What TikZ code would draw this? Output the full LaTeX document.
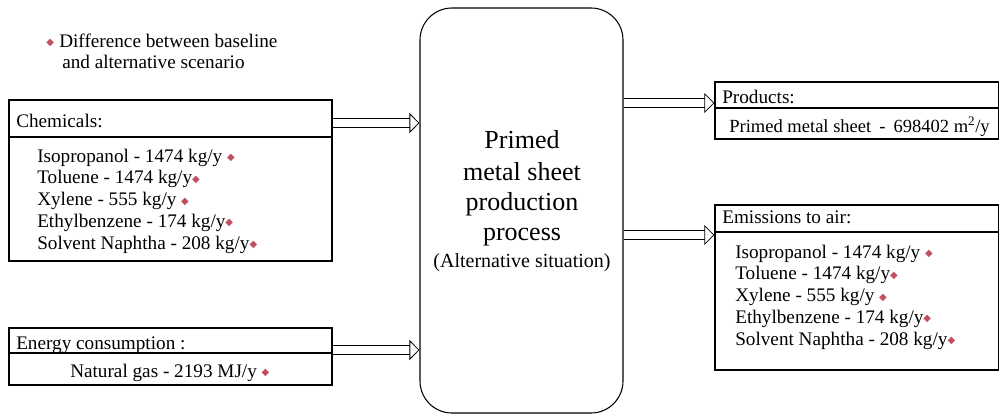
\documentclass[tikz,border=0pt]{standalone}
\usepackage{fontspec}
\setmainfont{Liberation Serif}
\newfontfamily\symfont{DejaVu Sans}
\usetikzlibrary{arrows.meta,fit}
\definecolor{diffred}{RGB}{192,80,96}
\newcommand{\dmark}{\raisebox{1.2pt}{\symfont\fontsize{7.5}{7.5}\selectfont\textcolor{diffred}{◆}}}
\tikzset{
	box/.style={draw, line width=0.9pt, inner sep=0pt},
	procbox/.style={draw, line width=0.8pt, inner sep=0pt, rounded corners=24pt},
	txt/.style={inner sep=0pt, font=\fontsize{14.4}{16}\selectfont, anchor=base west},
	proctext/.style={inner sep=0pt, font=\fontsize{19.5}{23}\selectfont, anchor=base},
	flow/.style={double, double distance=6.5pt, line width=0.6pt, -{Triangle[open, length=7.5pt, width=15pt]}},
}
\begin{document}
\begin{tikzpicture}[x=0.75pt, y=-0.75pt]
		\useasboundingbox (0,0) rectangle (1000,415);
		
		\node[txt] (leg1) at (46,47) {\dmark\hspace{4pt}Difference between baseline};
		\node[txt] (leg2) at (62,68) {and alternative scenario};
		
		\node[box, fit={(9,100) (332,261)}] (chem) {};
		\node[box, fit={(9,100) (332,137)}] (chemhead) {};
		\node[txt] (chemtitle) at (16,127) {Chemicals:};
		\node[txt] (chem1) at (37,162) {Isopropanol - 1474 kg/y \dmark};
		\node[txt] (chem2) at (37,183.8) {Toluene - 1474 kg/y\dmark};
		\node[txt] (chem3) at (37,205.6) {Xylene - 555 kg/y \dmark};
		\node[txt] (chem4) at (37,227.4) {Ethylbenzene - 174 kg/y\dmark};
		\node[txt] (chem5) at (37,249.2) {Solvent Naphtha - 208 kg/y\dmark};
		
		\node[box, fit={(9,328) (332,385)}] (energy) {};
		\node[box, fit={(9,328) (332,353)}] (energyhead) {};
		\node[txt] (energytitle) at (16,349) {Energy consumption :};
		\node[txt] (gas) at (70,377) {Natural gas - 2193 MJ/y \dmark};
		
		\node[procbox, fit={(420,8) (623,413)}] (proc) {};
		\node[proctext] (line1) at (522,148) {Primed};
		\node[proctext] (line2) at (522,180) {metal sheet};
		\node[proctext] (line3) at (522,210) {production};
		\node[proctext] (line4) at (522,240) {process};
		\node[proctext, font=\fontsize{15}{18}\selectfont] (line5) at (522,267) {(Alternative situation)};
		
		\node[box, fit={(715,82) (998.5,139)}] (prod) {};
		\node[box, fit={(715,82) (998.5,108)}] (prodhead) {};
		\node[txt] (prodtitle) at (722,103) {Products:};
		\node[txt, font=\fontsize{13.9}{16}\selectfont] (sheet) at (729,132) {Primed metal sheet\hspace{6pt}-\hspace{6pt}698402 m\textsuperscript{2}/y};
		
		\node[box, fit={(715,205) (998.5,370)}] (emis) {};
		\node[box, fit={(715,205) (998.5,232)}] (emishead) {};
		\node[txt] (emistitle) at (722,223) {Emissions to air:};
		\node[txt] (emis1) at (735,258) {Isopropanol - 1474 kg/y \dmark};
		\node[txt] (emis2) at (735,279.8) {Toluene - 1474 kg/y\dmark};
		\node[txt] (emis3) at (735,301.6) {Xylene - 555 kg/y \dmark};
		\node[txt] (emis4) at (735,323.4) {Ethylbenzene - 174 kg/y\dmark};
		\node[txt] (emis5) at (735,345.2) {Solvent Naphtha - 208 kg/y\dmark};
		
		\draw[flow] (chem.east |- 0,123) -- (proc.west |- 0,123);
		\draw[flow] (energy.east |- 0,350) -- (proc.west |- 0,350);
		\draw[flow] (proc.east |- 0,103) -- (prod.west |- 0,103);
		\draw[flow] (proc.east |- 0,235) -- (emis.west |- 0,235);
	\end{tikzpicture}
\end{document}
